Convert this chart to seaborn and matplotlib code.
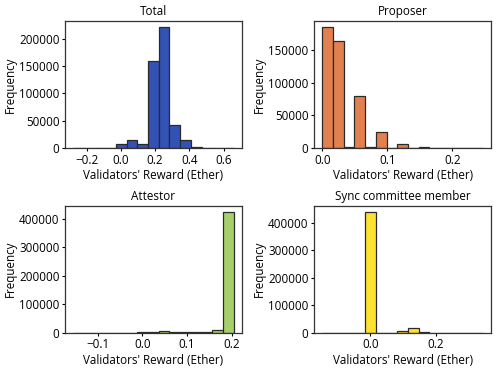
import numpy as np
import pandas as pd
import matplotlib
matplotlib.use("Agg")
import matplotlib.pyplot as plt
import seaborn as sns

# ---- data (bin ranges and counts) ----
titles = ["Total", "Proposer", "Attestor", "Sync committee member"]
colors = ["#3352b5", "#e3804f", "#a6d06a", "#fde232"]

total_range = (-0.28, 0.66)
total_counts = [80, 150, 300, 500, 7000, 14000, 8000, 159000, 221000, 42000,
                14000, 2000, 300, 100, 50]

proposer_range = (0.0, 0.247)
proposer_counts = [185000, 164000, 2000, 80000, 2000, 25000, 500, 6000, 200,
                   1000, 150, 100, 60, 40, 30]

attestor_range = (-0.155, 0.205)
attestor_counts = [30, 40, 50, 60, 80, 100, 2000, 3000, 7000, 4000, 3000,
                   2000, 3000, 8000, 425000]

sync_range = (-0.146, 0.343)
sync_counts = [20, 30, 40, 60, 440000, 400, 300, 6000, 18000, 1000, 500, 300,
               100, 50, 30]

all_ranges = [total_range, proposer_range, attestor_range, sync_range]
all_counts = [total_counts, proposer_counts, attestor_counts, sync_counts]

plt.rcParams["font.family"] = ["Open Sans", "DejaVu Sans"]
plt.rcParams["font.size"] = 8.4

fig, axes = plt.subplots(2, 2, figsize=(4.98, 3.72), dpi=100)
fig.subplots_adjust(left=0.1305, right=0.986, top=0.9435, bottom=0.1056,
                    wspace=0.409, hspace=0.454)

for ax, title, color, rng, counts in zip(axes.flat, titles, colors, all_ranges, all_counts):
    n = len(counts)
    edges = np.linspace(rng[0], rng[1], n + 1)
    centers = (edges[:-1] + edges[1:]) / 2
    df = pd.DataFrame({"x": centers, "w": counts})
    sns.histplot(data=df, x="x", weights="w", bins=n, binrange=rng, ax=ax,
                 color=color, alpha=1.0, edgecolor="#2a2a2a", linewidth=0.9)
    ax.set_title(title, fontsize=8.4, pad=4)
    ax.set_xlabel("Validators' Reward (Ether)", fontsize=8.4, labelpad=2)
    ax.set_ylabel("Frequency", fontsize=8.4, labelpad=1.5)
    ax.tick_params(labelsize=8.4, length=2.5, width=0.8, pad=1.5)
    for s in ax.spines.values():
        s.set_color("#333333")
        s.set_linewidth(0.9)

axes[0, 0].set_xticks([-0.2, 0.0, 0.2, 0.4, 0.6])
axes[0, 1].set_xticks([0.0, 0.1, 0.2])
axes[0, 1].set_yticks([0, 50000, 100000, 150000])
axes[1, 0].set_xticks([-0.1, 0.0, 0.1, 0.2])
axes[1, 1].set_xticks([0.0, 0.2])

fig.savefig("out.png", dpi=100)
